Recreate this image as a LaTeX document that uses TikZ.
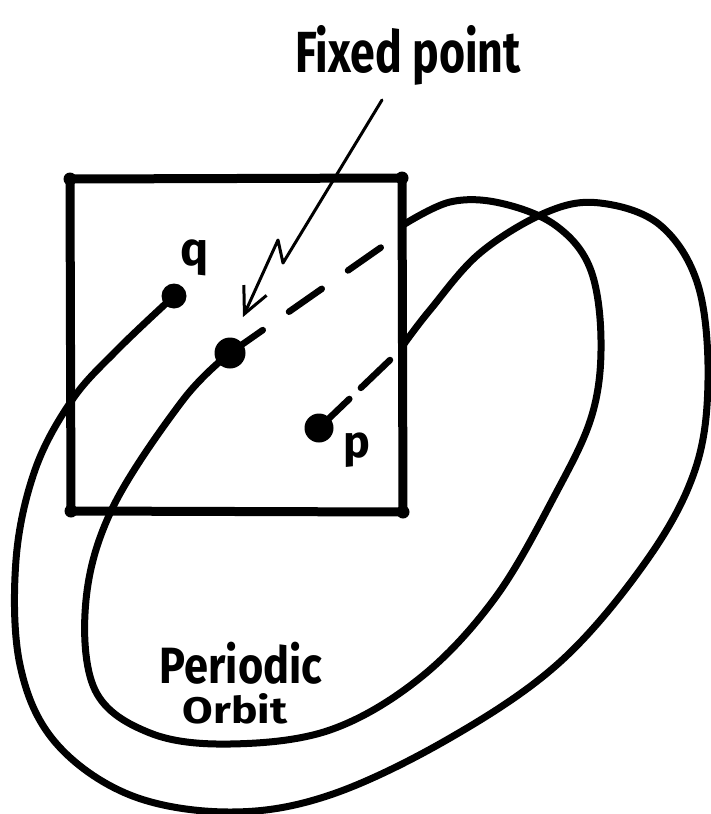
\documentclass[tikz,border=0pt]{standalone}
\usepackage{fontspec}
\usepackage{graphicx}
\setmainfont{Fira Sans}
\usetikzlibrary{arrows.meta}
\begin{document}
\begin{tikzpicture}[x=1pt,y=-1pt,
  orbit/.style={line width=7pt, line cap=round, line join=round},
  frame/.style={line width=9pt, line join=round},
  hidden/.style={line width=6.5pt, line cap=round},
  dot/.style={circle, fill=black, inner sep=0pt, minimum size=#1},
  corner/.style={circle, fill=black, inner sep=0pt, minimum size=13pt},
  pointer/.style={line width=3pt, line cap=round, line join=round, -{Straight Barb[length=26pt,width=25pt]}},
  lbl/.style={inner sep=0pt, anchor=base}
]
\useasboundingbox (0,0) rectangle (711,814);

% section square
\node[corner] (c1) at (70,179) {};
\node[corner] (c2) at (402,178) {};
\node[corner] (c3) at (403,512) {};
\node[corner] (c4) at (71,511) {};
\draw[frame] (c1.center) -- (c2.center) -- (c3.center) -- (c4.center) -- cycle;

% points
\node[dot=25pt] (q) at (174,296) {};
\node[dot=31pt] (F) at (230,353) {};
\node[dot=29pt] (p) at (319,428) {};

% outer trajectory from q
\draw[orbit] plot[smooth, tension=0.6] coordinates {(q.center) (117,350) (72,400) (35,470) (16,560) (20,665) (55,742) (130,795) (230,812) (330,795) (450,738) (560,662) (647,560) (695,470) (708,380) (698,285) (660,225) (600,203) (547,212) (480,253) (430,310) (404,344)};

% periodic orbit through fixed point
\draw[orbit] plot[smooth, tension=0.6] coordinates {(F.center) (183,400) (113,507) (86,600) (95,690) (150,733) (230,744) (330,730) (420,678) (495,598) (555,495) (592,415) (601,340) (590,268) (555,225) (500,203) (450,202) (403,225)};

% hidden parts behind the section
\coordinate (fe) at (403,232);
\coordinate (pe) at (390,360);
\draw[hidden, dash pattern=on 40pt off 32pt] (F.center) -- (fe);
\draw[hidden, dash pattern=on 42pt off 16pt] (p.center) -- (pe);

% pointer
\coordinate (a0) at (382,100);
\coordinate (a1) at (283,263);
\coordinate (a2) at (278,240);
\coordinate (tip) at (243,317);
\draw[pointer] (a0) -- (a1) -- (a2) -- (tip);

% labels
\node[lbl] (qlabel) at (195,265) {\bfseries\fontsize{47}{47}\selectfont q};
\node[lbl] (plabel) at (357,457) {\bfseries\fontsize{45}{45}\selectfont p};
\node[lbl] (fixedlabel) at (408,72) {\scalebox{0.77}[1]{\bfseries\fontsize{58}{58}\selectfont Fixed point}};
\node[lbl] (per) at (241,683) {\scalebox{0.85}[1]{\bfseries\fontsize{51}{51}\selectfont Periodic}};
\node[lbl] (orb) at (235,723) {\scalebox{1.2}[1]{\bfseries\fontsize{37}{37}\selectfont Orbit}};
\end{tikzpicture}
\end{document}
